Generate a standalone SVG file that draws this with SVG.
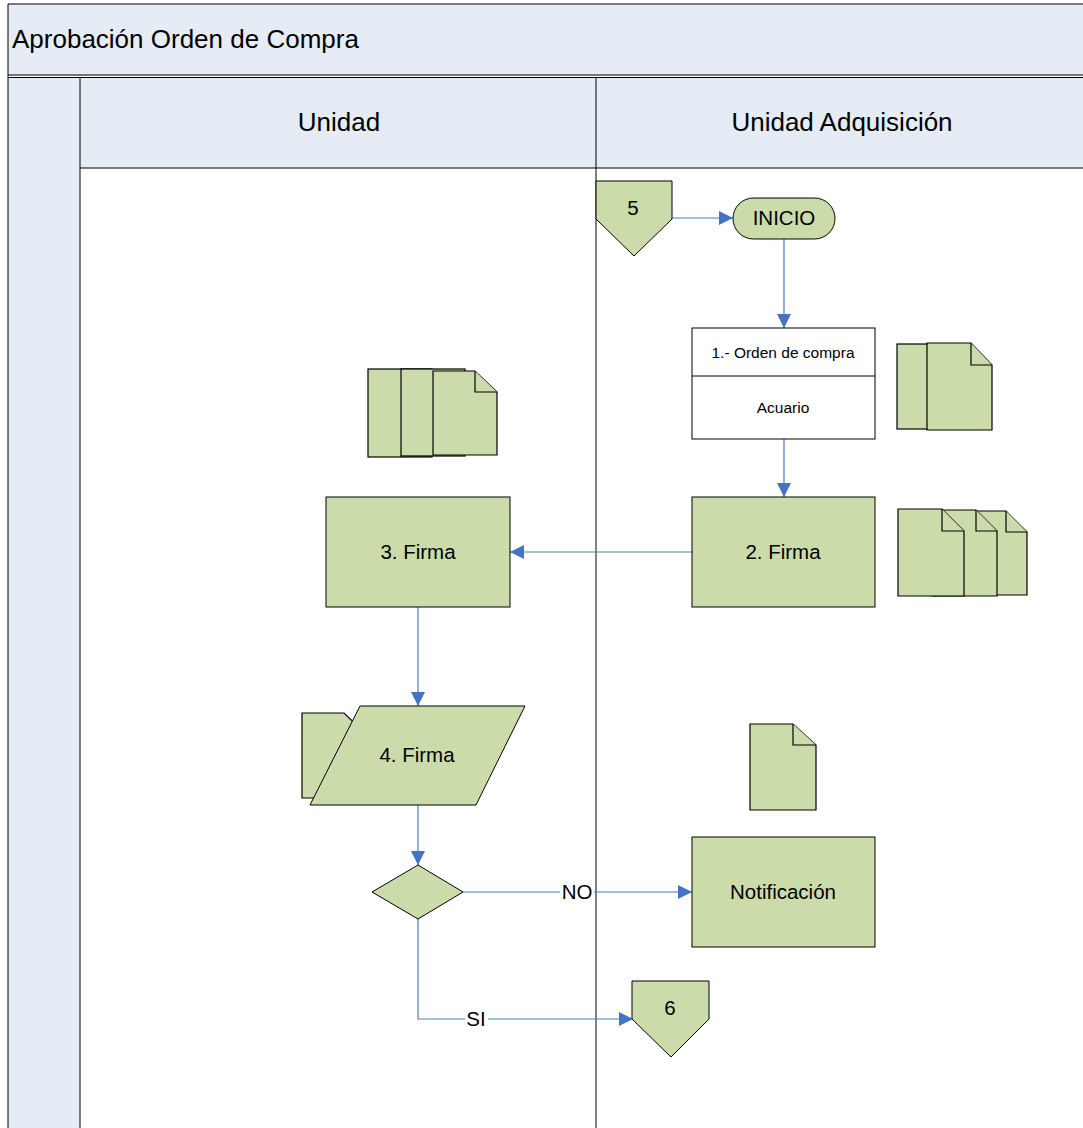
<svg xmlns="http://www.w3.org/2000/svg" width="1083" height="1128" viewBox="0 0 1083 1128">
<style>
.hdr{fill:#E5ECF6;stroke:none}
.ln{stroke:#000;stroke-width:1;fill:none}
.shape{fill:#CCDBAA;stroke:#000;stroke-width:1}
.box{fill:#fff;stroke:#000;stroke-width:1}
.doc{fill:#CCDBAA;stroke:#000;stroke-width:1.2;stroke-linejoin:miter}
.con{stroke:#4A7EBB;stroke-width:1.2;fill:none}
text{font-family:"Liberation Sans",Arial,sans-serif;fill:#000}
.t17{font-size:20.5px;text-anchor:middle}
.t13{font-size:15.5px;text-anchor:middle}
.t22{font-size:26px}
</style>
<defs>
<marker id="arr" viewBox="0 0 10 10" refX="10" refY="5" markerWidth="14" markerHeight="14" markerUnits="userSpaceOnUse" orient="auto">
<path d="M0,0 L10,5 L0,10 Z" fill="#4472C4"/>
</marker>
</defs>
<rect width="1083" height="1128" fill="#fff"/>
<g id="pool">
<rect class="hdr" x="8" y="4" width="1080" height="72"/>
<rect class="hdr" x="8" y="77" width="72" height="1060"/>
<rect class="hdr" x="80" y="77" width="1008" height="91"/>
<line class="ln" x1="8" y1="4" x2="1083" y2="4" stroke-width="1.5"/>
<line class="ln" x1="8" y1="4" x2="8" y2="1128"/>
<line class="ln" x1="8" y1="75" x2="1083" y2="75"/>
<line class="ln" x1="8" y1="77.5" x2="1083" y2="77.5"/>
<line class="ln" x1="80" y1="77" x2="80" y2="1128" stroke="#444"/>
<line class="ln" x1="596" y1="77" x2="596" y2="1128"/>
<line class="ln" x1="80" y1="168" x2="1083" y2="168" stroke="#555"/>
<text class="t22" x="12" y="48">Aprobación Orden de Compra</text>
<text class="t22" x="339" y="131" text-anchor="middle">Unidad</text>
<text class="t22" x="842" y="131" text-anchor="middle">Unidad Adquisición</text>
</g>
<g id="connectors">
<line class="con" x1="672" y1="218" x2="733" y2="218" marker-end="url(#arr)"/>
<line class="con" x1="784" y1="239" x2="784" y2="328" marker-end="url(#arr)"/>
<line class="con" x1="784" y1="439" x2="784" y2="497" marker-end="url(#arr)"/>
<line class="con" x1="692" y1="552" x2="510" y2="552" marker-end="url(#arr)"/>
<line class="con" x1="418" y1="607" x2="418" y2="706" marker-end="url(#arr)"/>
<line class="con" x1="418" y1="805" x2="418" y2="865" marker-end="url(#arr)"/>
<line class="con" x1="463" y1="892" x2="560" y2="892"/>
<line class="con" x1="594" y1="892" x2="692" y2="892" marker-end="url(#arr)"/>
<polyline class="con" points="418,919 418,1019 465,1019"/>
<line class="con" x1="488" y1="1019" x2="633" y2="1019" marker-end="url(#arr)"/>
<text class="t17" x="577" y="899">NO</text>
<text class="t17" x="476" y="1026">SI</text>
</g>
<g id="n5">
<polygon class="shape" points="596,181 672,181 672,219 634,256 596,219"/>
<text class="t17" x="633" y="215">5</text>
</g>
<g id="inicio">
<rect class="shape" x="733" y="198" width="102" height="41" rx="20.5"/>
<text class="t17" x="784" y="225">INICIO</text>
</g>
<g id="n1">
<rect class="box" x="692" y="328" width="183" height="111"/>
<line class="ln" x1="692" y1="376" x2="875" y2="376"/>
<text class="t13" x="783" y="358">1.- Orden de compra</text>
<text class="t13" x="783" y="413">Acuario</text>
</g>
<g id="docs1">
<rect class="doc" x="897" y="344" width="65" height="85"/>
<path class="doc" d="M927,343 H971 L992,365 V430 H927 Z"/>
<path class="doc" d="M971,343 V365 H992"/>
</g>
<g id="n2">
<rect class="shape" x="692" y="497" width="183" height="110"/>
<text class="t17" x="783" y="559">2. Firma</text>
</g>
<g id="docs2">
<path class="doc" d="M963,511 H1006 L1027,532 V595 H963 Z"/>
<path class="doc" d="M1006,511 V532 H1027"/>
<path class="doc" d="M932,510 H976 L997,531 V596 H932 Z"/>
<path class="doc" d="M976,510 V531 H997"/>
<path class="doc" d="M898,509 H942 L964,531 V596 H898 Z"/>
<path class="doc" d="M942,509 V531 H964"/>
</g>
<g id="docs3">
<rect class="doc" x="368" y="369" width="64" height="88"/>
<rect class="doc" x="401" y="369" width="64" height="87"/>
<path class="doc" d="M433,371 H475 L497,392 V455 H433 Z"/>
<path class="doc" d="M475,371 V392 H497"/>
</g>
<g id="n3">
<rect class="shape" x="326" y="497" width="184" height="110"/>
<text class="t17" x="418" y="559">3. Firma</text>
</g>
<g id="n4">
<path class="doc" d="M302,713 H344 L366,734 V798 H302 Z"/>
<polygon class="shape" points="360,706 525,706 476,805 310,805"/>
<text class="t17" x="417" y="762">4. Firma</text>
</g>
<g id="decision">
<polygon class="shape" points="418,865 463,892 418,919 372,892"/>
</g>
<g id="docs4">
<path class="doc" d="M750,724 H793 L816,745 V810 H750 Z"/>
<path class="doc" d="M793,724 V745 H816"/>
</g>
<g id="notif">
<rect class="shape" x="692" y="837" width="183" height="110"/>
<text class="t17" x="783" y="899">Notificación</text>
</g>
<g id="n6">
<polygon class="shape" points="632,981 709,981 709,1019 671,1057 632,1019"/>
<text class="t17" x="670" y="1015">6</text>
</g>
</svg>
